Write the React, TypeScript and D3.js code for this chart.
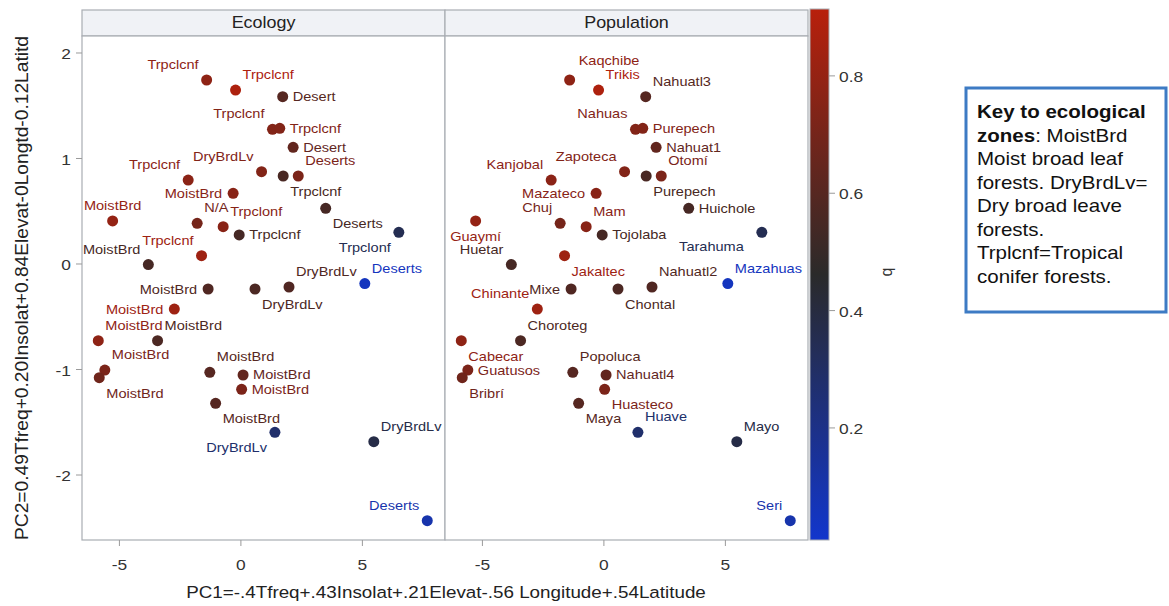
import React from "react";
import * as d3 from "d3";

const W = 1169;
const H = 606;

// Principal component scores of each group (shared by both panels)
const pc1 = [
  -1.41, -0.22, 1.72, 1.3, 1.6, 2.15, 0.85, 1.74, 2.36, -2.17, -0.32, 3.49,
  -5.28, -1.8, -0.73, -0.07, 6.5, -3.81, -1.62, 5.1, -1.35, 0.58, 1.98, -2.74,
  -3.43, -5.87, -5.6, -5.83, -1.28, 0.09, 0.03, -1.04, 1.4, 5.47, 7.67,
];
const pc2 = [
  1.744, 1.649, 1.586, 1.277, 1.286, 1.106, 0.875, 0.834, 0.834, 0.796, 0.67,
  0.528, 0.408, 0.386, 0.354, 0.275, 0.3, -0.005, 0.079, -0.185, -0.237,
  -0.237, -0.218, -0.427, -0.727, -0.727, -1.005, -1.078, -1.027, -1.052,
  -1.188, -1.32, -1.595, -1.684, -2.433,
];
const qValues = [
  0.78, 0.88, 0.6, 0.74, 0.74, 0.64, 0.74, 0.56, 0.72, 0.77, 0.76, 0.55, 0.8,
  0.7, 0.76, 0.55, 0.35, 0.55, 0.83, 0.05, 0.58, 0.57, 0.58, 0.83, 0.57, 0.78,
  0.72, 0.68, 0.6, 0.64, 0.72, 0.6, 0.28, 0.38, 0.1,
];
const ecologyLabels = [
  "Trpclcnf", "Trpclcnf", "Desert", "Trpclcnf", "Trpclcnf", "Desert",
  "DryBrdLv", "Trpclcnf", "Deserts", "Trpclcnf", "MoistBrd", "Deserts",
  "MoistBrd", "N/A", "Trpclonf", "Trpclcnf", "Trpclonf", "MoistBrd",
  "Trpclcnf", "Deserts", "MoistBrd", "DryBrdLv", "DryBrdLv", "MoistBrd",
  "MoistBrd", "MoistBrd", "MoistBrd", "MoistBrd", "MoistBrd", "MoistBrd",
  "MoistBrd", "MoistBrd", "DryBrdLv", "DryBrdLv", "Deserts",
];
const populationLabels = [
  "Kaqchibe", "Trikis", "Nahuatl3", "Nahuas", "Purepech", "Nahuat1",
  "Zapoteca", "Purepech", "Otomí", "Kanjobal", "Mazateco", "Huichole",
  "Guaymí", "Chuj", "Mam", "Tojolaba", "Tarahuma", "Huetar", "Jakaltec",
  "Mazahuas", "Mixe", "Chontal", "Nahuatl2", "Chinante", "Choroteg",
  "Cabecar", "Guatusos", "Bribrí", "Popoluca", "Nahuatl4", "Huasteco",
  "Maya", "Huave", "Mayo", "Seri",
];
// Side of the marker on which each label sits ("NN" = high above-right, "SWW" = far below-left)
const ecologyPlacement = [
  "NW", "NE", "E", "NW", "E", "E", "NW", "SE", "NE", "NW", "W", "SE", "N",
  "NE", "NE", "E", "SW", "NW", "NW", "NE", "W", "SE", "NE", "W", "NE", "NE",
  "NE", "SE", "NE", "E", "E", "SE", "SW", "NE", "NW",
];
const populationPlacement = [
  "NN", "NE", "NE", "NW", "E", "E", "NW", "SE", "NE", "NW", "W", "E", "S",
  "NW", "NE", "E", "SWW", "NW", "SE", "NE", "W", "SE", "NE", "NW", "NE", "SE",
  "E", "SE", "NE", "E", "SE", "SE", "NE", "NE", "NW",
];

const panels = ["Ecology", "Population"];
const xTicks = [-5, 0, 5];
const yTicks = [-2, -1, 0, 1, 2];
const qTicks = [0.2, 0.4, 0.6, 0.8];
const qDomain = [0.01, 0.46, 0.914];
const qColors = ["#1236cc", "#2a2a2a", "#b8200c"];

const xTitle = "PC1=-.4Tfreq+.43Insolat+.21Elevat-.56 Longitude+.54Latitude";
const yTitle = "PC2=0.49Tfreq+0.20Insolat+0.84Elevat-0Longtd-0.12Latitd";
const qTitle = "q";
const keyLines = [
  [{ t: "Key to ecological", b: true }],
  [{ t: "zones", b: true }, { t: ": MoistBrd", b: false }],
  [{ t: "Moist broad leaf", b: false }],
  [{ t: "forests. DryBrdLv=", b: false }],
  [{ t: "Dry broad leave", b: false }],
  [{ t: "forests.", b: false }],
  [{ t: "Trplcnf=Tropical", b: false }],
  [{ t: "conifer forests.", b: false }],
];

const FONT = "'Liberation Sans', Arial, Helvetica, sans-serif";
const SX = 1.12;

// layout
const panelX = [82, 445];
const panelW = 363;
const stripTop = 10;
const plotTop = 36;
const plotBottom = 540;
const barX = 810;
const barW = 19;
const barTop = 9;
const barBottom = 540;
const qMin = 0.009;
const qMax = 0.914;

const color = d3
  .scaleLinear<string>()
  .domain(qDomain)
  .range(qColors)
  .interpolate(d3.interpolateRgb);

const yScale = d3.scaleLinear().domain([2.161, -2.616]).range([plotTop, plotBottom]);
const qScale = d3.scaleLinear().domain([qMax, qMin]).range([barTop, barBottom]);

function Txt(props: {
  x: number;
  y: number;
  anchor?: string;
  size: number;
  fill?: string;
  weight?: string;
  rotate?: number;
  sx?: number;
  children: React.ReactNode;
}) {
  const { x, y, anchor = "start", size, fill = "#222", weight = "normal", rotate = 0, sx = SX } = props;
  return (
    <text
      transform={`translate(${x},${y}) scale(${sx},1)${rotate ? ` rotate(${rotate})` : ""}`}
      textAnchor={anchor}
      fontSize={size}
      fill={fill}
      fontWeight={weight}
      fontFamily={FONT}
    >
      {props.children}
    </text>
  );
}

function place(code: string, px: number, py: number) {
  switch (code) {
    case "E":
      return { x: px + 10, y: py + 4.5, anchor: "start" };
    case "W":
      return { x: px - 11, y: py + 4.5, anchor: "end" };
    case "N":
      return { x: px, y: py - 11, anchor: "middle" };
    case "S":
      return { x: px, y: py + 20, anchor: "middle" };
    case "NN":
      return { x: px + 9, y: py - 15, anchor: "start" };
    case "NE":
      return { x: px + 7, y: py - 11, anchor: "start" };
    case "NW":
      return { x: px - 8, y: py - 11, anchor: "end" };
    case "SE":
      return { x: px + 7, y: py + 20, anchor: "start" };
    case "SWW":
      return { x: px - 18, y: py + 19, anchor: "end" };
    default:
      return { x: px - 8, y: py + 20, anchor: "end" };
  }
}

export default function App() {
  // gradient stops from top (high q) to bottom (low q), ascending offsets
  const gradStops = d3.range(0, 1.0001, 0.05).map((t) => {
    const q = qMax - t * (qMax - qMin);
    return { offset: `${t * 100}%`, c: color(q) };
  });

  return (
    <svg
      width={W}
      height={H}
      viewBox={`0 0 ${W} ${H}`}
      style={{ position: "absolute", left: 0, top: 0, background: "#fff" }}
    >
      <defs>
        <linearGradient id="qgrad" x1="0" y1="0" x2="0" y2="1">
          {gradStops.map((s, i) => (
            <stop key={i} offset={s.offset} stopColor={s.c} />
          ))}
        </linearGradient>
      </defs>

      {panels.map((name, pi) => {
        const x0 = panelX[pi];
        const xScale = d3.scaleLinear().domain([-6.54, 8.4]).range([x0, x0 + panelW]);
        const labels = pi === 0 ? ecologyLabels : populationLabels;
        const placement = pi === 0 ? ecologyPlacement : populationPlacement;
        return (
          <g key={name}>
            <rect x={x0} y={stripTop} width={panelW} height={plotTop - stripTop} fill="#f0f2f6" stroke="#a9adb3" strokeWidth={1.2} />
            <Txt x={x0 + panelW / 2} y={28.3} anchor="middle" size={16} fill="#222">
              {name}
            </Txt>
            <rect x={x0} y={plotTop} width={panelW} height={plotBottom - plotTop} fill="#fff" stroke="#a9adb3" strokeWidth={1.2} />
            {xTicks.map((t) => (
              <g key={t}>
                <line x1={xScale(t)} x2={xScale(t)} y1={plotBottom} y2={plotBottom + 6} stroke="#9a9a9a" />
                <Txt x={xScale(t)} y={570} anchor="middle" size={15.5} fill="#333">
                  {t}
                </Txt>
              </g>
            ))}
            {pc1.map((v, i) => {
              const px = xScale(v);
              const py = yScale(pc2[i]);
              const p = place(placement[i], px, py);
              return (
                <g key={i}>
                  <circle cx={px} cy={py} r={5.5} fill={color(qValues[i])} />
                  <Txt x={p.x} y={p.y} anchor={p.anchor} size={13} fill={color(qValues[i])}>
                    {labels[i]}
                  </Txt>
                </g>
              );
            })}
          </g>
        );
      })}

      {/* y axis */}
      {yTicks.map((t) => (
        <g key={t}>
          <line x1={76} x2={82} y1={yScale(t)} y2={yScale(t)} stroke="#9a9a9a" />
          <Txt x={71} y={yScale(t) + 6.3} anchor="end" size={15.5} fill="#333">
            {t}
          </Txt>
        </g>
      ))}

      <text
        transform={`translate(28,288) scale(${SX},1) rotate(-90)`}
        textAnchor="middle"
        fontSize={17}
        fontFamily={FONT}
        fill="#222"
        textLength={504}
        lengthAdjust="spacingAndGlyphs"
      >
        {yTitle}
      </text>
      <text
        x={446 / SX}
        y={598}
        transform={`scale(${SX},1)`}
        textAnchor="middle"
        fontSize={16.8}
        fontFamily={FONT}
        fill="#222"
      >
        {xTitle}
      </text>

      {/* colour bar */}
      <rect x={barX} y={barTop} width={barW} height={barBottom - barTop} fill="url(#qgrad)" stroke="#a9adb3" strokeWidth={1} />
      {qTicks.map((t) => (
        <g key={t}>
          <line x1={barX + barW} x2={barX + barW + 6} y1={qScale(t)} y2={qScale(t)} stroke="#9a9a9a" />
          <Txt x={barX + barW + 10} y={qScale(t) + 6} size={15.5} fill="#333">
            {t.toFixed(1)}
          </Txt>
        </g>
      ))}
      <Txt x={892} y={272} anchor="middle" size={16} fill="#333" rotate={-90} sx={1}>
        {qTitle}
      </Txt>

      {/* key box */}
      <rect x={966} y={88} width={200} height={224} fill="#fff" stroke="#3d7bc4" strokeWidth={3} />
      {keyLines.map((line, i) => (
        <text
          key={i}
          transform={`translate(977,${118 + i * 23.5}) scale(1.14,1)`}
          fontSize={18}
          fontFamily={FONT}
          fill="#111"
        >
          {line.map((seg, j) => (
            <tspan key={j} fontWeight={seg.b ? "bold" : "normal"}>
              {seg.t}
            </tspan>
          ))}
        </text>
      ))}
    </svg>
  );
}
